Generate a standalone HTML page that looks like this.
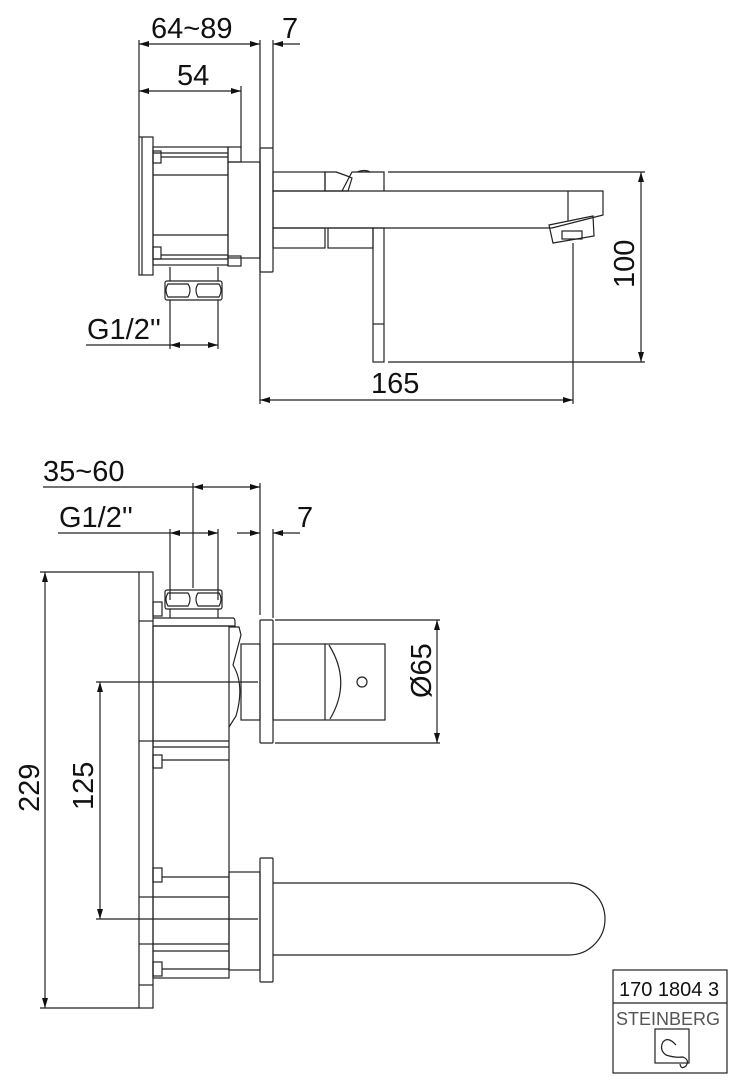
<!DOCTYPE html>
<html><head><meta charset="utf-8"><style>
html,body{margin:0;padding:0;background:#fff}
svg{display:block}
text{font-family:"Liberation Sans",sans-serif;fill:#111}
</style></head><body>
<svg width="742" height="1080" viewBox="0 0 742 1080" xmlns="http://www.w3.org/2000/svg">
<defs>
<marker id="a" viewBox="0 0 10 6" refX="10" refY="3" markerWidth="10" markerHeight="6" orient="auto-start-reverse" markerUnits="userSpaceOnUse"><path d="M0,0 L10,3 L0,6 z" fill="#111"/></marker>
</defs>
<g fill="none" stroke="#222" stroke-width="1.2">
<!-- TOP VIEW dims -->
<line x1="139" y1="40" x2="139" y2="137"/>
<line x1="260" y1="40" x2="260" y2="404"/>
<line x1="273" y1="40" x2="273" y2="148"/>
<line x1="241" y1="86" x2="241" y2="148"/>
<line x1="139" y1="44" x2="260" y2="44" marker-start="url(#a)" marker-end="url(#a)"/>
<line x1="300" y1="44" x2="273" y2="44" marker-end="url(#a)"/>
<line x1="139" y1="91" x2="241" y2="91" marker-start="url(#a)" marker-end="url(#a)"/>
<!-- backplate -->
<rect x="139" y="137" width="14" height="138"/>
<line x1="142" y1="137" x2="142" y2="275"/>
<!-- body -->
<rect x="153" y="147" width="75" height="118"/>
<line x1="153" y1="153" x2="228" y2="153"/><line x1="161" y1="157" x2="228" y2="157"/>
<line x1="153" y1="175" x2="228" y2="175"/><line x1="153" y1="235" x2="228" y2="235"/>
<line x1="161" y1="255" x2="228" y2="255"/><line x1="153" y1="259" x2="228" y2="259"/>
<rect x="153" y="151" width="8" height="12"/><rect x="153" y="247" width="8" height="12"/>
<rect x="228" y="147" width="13" height="15"/><rect x="228" y="256" width="13" height="10"/>
<rect x="228" y="162" width="32" height="96"/>
<rect x="260" y="148" width="13" height="124" rx="1"/>
<!-- pipe & nut -->
<line x1="170" y1="267" x2="170" y2="281"/><line x1="218" y1="267" x2="218" y2="281"/>
<rect x="165" y="281" width="57" height="19" rx="2"/>
<path d="M168,284 Q164,290 168,297 H188 Q192,290 188,284 Z M198,284 Q194,290 198,297 H219 Q223,290 219,284 Z"/>
<line x1="170" y1="300" x2="170" y2="349"/><line x1="218" y1="300" x2="218" y2="349"/>
<line x1="86" y1="345" x2="170" y2="345"/>
<line x1="170" y1="345" x2="218" y2="345" marker-start="url(#a)" marker-end="url(#a)"/>
<!-- spout side -->
<rect x="273" y="172" width="52" height="19"/>
<path d="M325,172 H336 Q345,175 352,178 L348,191 H325 Z"/>
<path d="M342,191 L352,172 H384 V191"/>
<path d="M357,172 Q365,169 370,172"/>
<path d="M273,191 H603 V215 L552,228 H273 Z"/>
<line x1="568" y1="191" x2="568" y2="221"/>
<path d="M549,225 L593,216 L594,236 L553,243 Z"/>
<rect x="562" y="231" width="20" height="8"/>
<rect x="273" y="228" width="52" height="20"/>
<rect x="328" y="228" width="45" height="20"/>
<rect x="373" y="228" width="11" height="134"/>
<line x1="373" y1="324" x2="384" y2="324"/>
<line x1="388" y1="172" x2="645" y2="172"/>
<line x1="388" y1="362" x2="645" y2="362"/>
<line x1="641" y1="172" x2="641" y2="362" marker-start="url(#a)" marker-end="url(#a)"/>
<line x1="573" y1="243" x2="573" y2="404"/>
<line x1="260" y1="400" x2="573" y2="400" marker-start="url(#a)" marker-end="url(#a)"/>

<!-- FRONT VIEW dims -->
<line x1="43" y1="487" x2="193" y2="487"/>
<line x1="193" y1="487" x2="260" y2="487" marker-start="url(#a)" marker-end="url(#a)"/>
<line x1="193" y1="483" x2="193" y2="588"/>
<line x1="260" y1="483" x2="260" y2="615"/>
<line x1="58" y1="533" x2="170" y2="533"/>
<line x1="170" y1="533" x2="218" y2="533" marker-start="url(#a)" marker-end="url(#a)"/>
<line x1="170" y1="529" x2="170" y2="600"/><line x1="218" y1="529" x2="218" y2="600"/>
<line x1="237" y1="533" x2="260" y2="533" marker-end="url(#a)"/>
<line x1="300" y1="533" x2="273" y2="533" marker-end="url(#a)"/>
<line x1="273" y1="529" x2="273" y2="618"/>
<line x1="40" y1="572" x2="139" y2="572"/><line x1="40" y1="1008" x2="139" y2="1008"/>
<line x1="45" y1="572" x2="45" y2="1008" marker-start="url(#a)" marker-end="url(#a)"/>
<line x1="96" y1="682" x2="258" y2="682"/><line x1="96" y1="919" x2="258" y2="919"/>
<line x1="100" y1="682" x2="100" y2="919" marker-start="url(#a)" marker-end="url(#a)"/>
<!-- backplate -->
<rect x="139" y="572" width="14" height="436"/>
<line x1="139" y1="621" x2="153" y2="621"/><line x1="139" y1="741" x2="153" y2="741"/>
<line x1="139" y1="897" x2="153" y2="897"/><line x1="139" y1="944" x2="153" y2="944"/>
<line x1="139" y1="985" x2="153" y2="985"/>
<!-- nut -->
<rect x="165" y="590" width="57" height="19" rx="2"/>
<path d="M168,593 Q164,599 168,606 H188 Q192,599 188,593 Z M198,593 Q194,599 198,606 H219 Q223,599 219,593 Z"/>
<line x1="170" y1="609" x2="170" y2="618"/><line x1="218" y1="609" x2="218" y2="618"/>
<!-- body -->
<path d="M153,618 H233 Q235,618 235,622 V626 H153"/>
<rect x="153" y="626" width="76" height="352"/>
<line x1="153" y1="741" x2="229" y2="741"/><line x1="153" y1="747" x2="229" y2="747"/>
<line x1="162" y1="760" x2="229" y2="760"/><line x1="162" y1="877" x2="229" y2="877"/>
<line x1="153" y1="897" x2="229" y2="897"/><line x1="153" y1="944" x2="229" y2="944"/>
<line x1="153" y1="951" x2="229" y2="951"/><line x1="162" y1="969" x2="229" y2="969"/>
<rect x="153" y="755" width="9" height="13"/><rect x="153" y="868" width="9" height="14"/>
<rect x="153" y="962" width="9" height="14"/><rect x="153" y="602" width="9" height="14"/>
<path d="M229,627 H239 L241,635 L233,665 Q245,685 236,716 L229,727"/>
<rect x="241" y="644" width="19" height="76"/>
<rect x="260" y="620" width="13" height="123" rx="1"/>
<rect x="273" y="644" width="112" height="76"/>
<line x1="325" y1="644" x2="325" y2="720"/>
<path d="M329,645 Q352,682 330,719"/>
<circle cx="362" cy="682" r="5"/>
<line x1="275" y1="620" x2="440" y2="620"/><line x1="275" y1="743" x2="440" y2="743"/>
<line x1="437" y1="620" x2="437" y2="743" marker-start="url(#a)" marker-end="url(#a)"/>
<!-- lower spout -->
<rect x="229" y="872" width="31" height="98"/>
<rect x="260" y="858" width="13" height="124" rx="1"/>
<path d="M273,883 H569 A36,36 0 0 1 569,955 H273"/>
</g>
<g font-size="29">
<text x="151" y="38">64~89</text>
<text x="282" y="38">7</text>
<text x="177" y="85">54</text>
<text x="87" y="339">G1/2''</text>
<text x="371" y="393">165</text>
<text transform="translate(634,288) rotate(-90)">100</text>
<text x="43" y="481">35~60</text>
<text x="59" y="527">G1/2''</text>
<text x="297" y="527">7</text>
<text transform="translate(39,812) rotate(-90)">229</text>
<text transform="translate(93,810) rotate(-90)">125</text>
<text transform="translate(431,698) rotate(-90)">Ø65</text>
</g>
<!-- title block -->
<g fill="none" stroke="#222" stroke-width="1.2">
<rect x="613" y="970" width="114" height="103"/>
<line x1="613" y1="1003" x2="727" y2="1003"/>
<rect x="655" y="1029" width="34" height="34"/>
<path d="M676,1045 Q668,1036 663,1042 Q659,1050 666,1055 Q675,1058 683,1057 Q690,1060 686,1066 Q681,1070 680,1064"/>
</g>
<text x="619" y="996" font-size="20">170 1804 3</text>
<text x="616" y="1025" font-size="18" style="fill:#555">STEINBERG</text>
</svg>
</body></html>
